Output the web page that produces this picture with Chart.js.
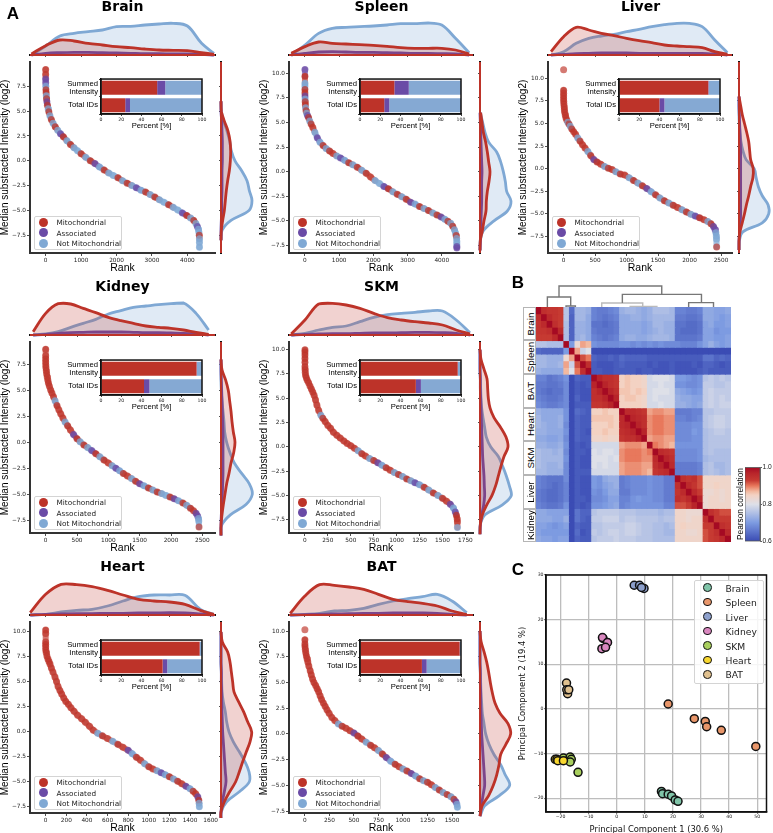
<!DOCTYPE html>
<html>
<head>
<meta charset="utf-8">
<title>Mitochondrial proteome across tissues</title>
<script src="https://cdn.jsdelivr.net/npm/chart.js"></script>
<style>
  html, body { margin: 0; padding: 0; background: #fff; }
  body { position: relative; width: 773px; height: 833px; overflow: hidden; }
  canvas { position: absolute; }
  .txt { position: absolute; white-space: nowrap; color: #000; }
  .box { position: absolute; box-sizing: border-box; background: rgba(255,255,255,.85); border: 1px solid #d4d4d4; border-radius: 2px; }
  .dot { position: absolute; border-radius: 50%; box-sizing: border-box; }
</style>
</head>
<body>
<script>
// rank curves, [rank, log2 intensity]
const brainCurve = [[0,9.2],[0,8.7],[0,8.25],[2,7.85],[5,7.5],[8,7.15],[12,6.85],[18,6.55],[25,6.25],[35,5.95],[50,5.6],[70,5.25],[90,4.95],[120,4.55],[160,4.15],[210,3.78],[270,3.42],[340,3.08],[420,2.72],[500,2.42],[600,2.02],[700,1.65],[800,1.32],[900,1.02],[1000,0.72],[1130,0.35],[1260,0.02],[1390,-0.28],[1520,-0.62],[1650,-0.92],[1780,-1.22],[1910,-1.48],[2040,-1.7],[2170,-2.0],[2300,-2.25],[2430,-2.48],[2560,-2.72],[2690,-2.95],[2820,-3.15],[2950,-3.4],[3080,-3.65],[3210,-3.92],[3340,-4.18],[3470,-4.42],[3600,-4.68],[3730,-4.95],[3860,-5.25],[3980,-5.5],[4090,-5.75],[4180,-6.0],[4240,-6.3],[4280,-6.6],[4310,-6.9],[4325,-7.2],[4335,-7.5],[4340,-7.85],[4340,-8.2],[4340,-8.7]]
const brainClasses = 'MMAANMMNMAMNMNMNMNAMNMNNMNMANMNNMNMNANMNMNNMNNAMNMNANNMNNN'
const spleenCurve = [[0,10.4],[0,9.7],[0,9.0],[0,8.7],[0,8.35],[0,8.0],[2,7.7],[4,7.4],[7,7.1],[12,6.8],[20,6.5],[32,6.2],[50,5.95],[75,5.7],[105,5.5],[140,5.15],[180,4.85],[230,4.5],[290,4.0],[360,3.45],[440,3.0],[530,2.65],[620,2.35],[720,2.1],[820,1.85],[930,1.6],[1040,1.4],[1160,1.15],[1280,0.9],[1400,0.7],[1530,0.45],[1660,0.15],[1790,-0.15],[1920,-0.55],[2050,-0.9],[2180,-1.2],[2310,-1.5],[2440,-1.75],[2570,-2.05],[2700,-2.3],[2830,-2.55],[2960,-2.8],[3090,-3.1],[3220,-3.3],[3350,-3.55],[3480,-3.75],[3610,-3.95],[3740,-4.2],[3860,-4.4],[3980,-4.6],[4090,-4.85],[4180,-5.05],[4260,-5.25],[4320,-5.55],[4370,-5.9],[4400,-6.2],[4420,-6.5],[4435,-6.8],[4440,-7.1],[4440,-7.35],[4440,-7.6],[4440,-7.75]]
const spleenClasses = 'AMNNMMANMMNMNAMNMMNANMNMMNANMNMNMMNNAMNMNMANMNMNMANMNMNNMNNNAA'
const liverCurve = [[0,10.96],[0,8.67],[0,8.35],[0,8.05],[0,7.75],[2,7.45],[5,7.15],[8,6.85],[12,6.55],[18,6.25],[26,5.95],[36,5.65],[50,5.4],[66,5.15],[85,4.95],[105,4.7],[130,4.4],[160,4.1],[190,3.8],[225,3.4],[260,3.05],[300,2.65],[340,2.3],[385,1.9],[430,1.45],[480,1.0],[530,0.75],[590,0.5],[650,0.25],[710,0.05],[770,-0.1],[830,-0.35],[900,-0.6],[970,-0.7],[1040,-1.0],[1110,-1.3],[1180,-1.6],[1250,-1.9],[1320,-2.2],[1390,-2.55],[1460,-2.9],[1530,-3.25],[1600,-3.55],[1670,-3.8],[1740,-4.05],[1810,-4.3],[1880,-4.55],[1950,-4.8],[2020,-5.05],[2090,-5.25],[2160,-5.45],[2230,-5.65],[2290,-5.85],[2340,-6.1],[2380,-6.4],[2405,-6.75],[2418,-7.1],[2425,-7.45],[2428,-7.8],[2430,-8.67]]
const liverClasses = 'MMMMMMMMMMMMMNMNMMMNMMMNMAMMNMMNMMNMNMANMNMNMMNMNAMMNMAANNNM'
const kidneyCurve = [[0,8.97],[0,8.35],[0,8.05],[0,7.75],[2,7.45],[5,7.2],[10,6.9],[16,6.6],[25,6.3],[35,6.0],[45,5.7],[60,5.4],[80,5.05],[100,4.75],[125,4.4],[150,4.0],[180,3.55],[210,3.15],[240,2.75],[275,2.35],[310,1.95],[350,1.6],[395,1.2],[445,0.75],[500,0.35],[550,0.05],[610,-0.25],[670,-0.5],[735,-0.8],[800,-1.1],[865,-1.4],[930,-1.7],[1000,-2.0],[1060,-2.25],[1120,-2.5],[1180,-2.75],[1240,-3.0],[1305,-3.25],[1370,-3.5],[1435,-3.75],[1500,-4.0],[1570,-4.2],[1640,-4.4],[1710,-4.6],[1780,-4.8],[1850,-4.95],[1920,-5.12],[1984,-5.27],[2050,-5.45],[2120,-5.65],[2190,-5.85],[2250,-6.08],[2310,-6.35],[2360,-6.6],[2400,-6.85],[2425,-7.1],[2438,-7.35],[2443,-7.6],[2447,-8.17]]
const kidneyClasses = 'MMMMMMMMMMMMMMMNMMMMNMMAMNMNAMNMMNANMMNMANMNMNNMANMNMMAANNM'
const skmCurve = [[0,10.0],[0,9.75],[0,9.45],[0,9.1],[0,8.7],[0,8.25],[1,7.95],[3,7.65],[8,7.35],[15,7.1],[25,6.85],[40,6.6],[55,6.25],[70,5.95],[85,5.65],[100,5.3],[115,4.85],[130,4.3],[150,3.75],[174,3.24],[195,2.95],[220,2.6],[250,2.2],[280,1.9],[310,1.5],[348,1.18],[385,0.9],[425,0.6],[460,0.35],[500,0.12],[540,-0.15],[580,-0.4],[620,-0.7],[660,-0.95],[705,-1.2],[750,-1.4],[795,-1.65],[840,-1.9],[885,-2.15],[930,-2.4],[975,-2.65],[1020,-2.85],[1065,-3.05],[1110,-3.3],[1155,-3.5],[1200,-3.7],[1250,-3.9],[1300,-4.15],[1350,-4.45],[1400,-4.75],[1450,-5.0],[1500,-5.3],[1545,-5.6],[1585,-5.9],[1620,-6.3],[1640,-6.7],[1652,-7.05],[1660,-7.4],[1663,-7.7],[1663,-8.3]]
const skmClasses = 'MMMMMMMMMMMMMMMMMMMNMMMMMMMMMMMNMMNMANMMNMNMNANMNMNMMANAMMMN'
const heartCurve = [[0,10.2],[0,9.85],[0,9.0],[0,8.75],[0,8.5],[1,8.2],[5,7.95],[12,7.6],[22,7.3],[32,7.05],[42,6.8],[55,6.4],[70,6.0],[90,5.5],[105,5.05],[120,4.55],[138,4.15],[155,3.8],[175,3.4],[195,3.05],[220,2.75],[245,2.4],[275,2.05],[310,1.65],[349,1.3],[385,0.95],[425,0.55],[462,0.15],[505,-0.15],[550,-0.4],[600,-0.68],[650,-0.95],[700,-1.25],[750,-1.55],[800,-1.85],[840,-2.2],[880,-2.55],[920,-2.85],[960,-3.2],[1000,-3.5],[1040,-3.72],[1080,-3.9],[1120,-4.1],[1160,-4.3],[1200,-4.5],[1240,-4.72],[1280,-4.95],[1320,-5.2],[1360,-5.45],[1400,-5.7],[1430,-5.95],[1455,-6.2],[1475,-6.5],[1485,-6.85],[1488,-7.15],[1490,-7.5]]
const heartClasses = 'MMMMMMMMMMMMMMMMMMMMMMMMMMMMNMMNMMANMMNMMNANMNMMANMMAMNN'
const batCurve = [[0,10.13],[0,9.15],[0,8.75],[1,8.5],[4,8.2],[9,7.9],[15,7.6],[22,7.3],[30,7.0],[40,6.6],[54,6.15],[65,5.75],[78,5.35],[92,5.0],[110,4.7],[125,4.4],[140,4.1],[155,3.7],[170,3.35],[188,3.0],[206,2.7],[225,2.35],[247,2.0],[275,1.6],[305,1.3],[342,0.97],[380,0.75],[420,0.55],[460,0.3],[500,0.1],[540,-0.2],[580,-0.5],[625,-0.8],[670,-1.1],[710,-1.35],[750,-1.62],[790,-1.95],[830,-2.3],[875,-2.65],[920,-2.95],[960,-3.2],[1000,-3.4],[1040,-3.6],[1085,-3.85],[1130,-4.1],[1170,-4.35],[1210,-4.55],[1250,-4.7],[1290,-4.95],[1330,-5.2],[1370,-5.45],[1410,-5.7],[1450,-5.9],[1490,-6.1],[1520,-6.35],[1540,-6.6],[1550,-6.85],[1555,-7.14]]
const batClasses = 'MMMMMMMMMMMMMMMMMMMMMMMMMNMMMAMMNMMNMANMMNMANMNMMNMNMNMANN'

// top density curves
const brainTopRank = [-400,0,400,800,1200,1600,2000,2400,2800,3200,3600,4000,4400,4750]
const brainTopNot = [0,.27,.57,.65,.70,.75,.85,.86,.90,.93,.95,.87,.35,.05]
const brainTopMito = [.03,.28,.45,.42,.35,.30,.25,.22,.18,.15,.14,.13,.07,.02]
const brainTopAssoc = [0,.05,.07,.08,.08,.07,.06,.05,.04,.04,.03,.03,.02,0]
const spleenTopRank = [-400,0,400,800,1200,1600,2000,2400,2800,3200,3600,4000,4400,4800]
const spleenTopNot = [0,.30,.65,.80,.83,.85,.87,.90,.94,.94,.96,.90,.50,.07]
const spleenTopMito = [.05,.25,.39,.35,.33,.31,.29,.26,.22,.20,.20,.20,.15,.03]
const spleenTopAssoc = [0,.05,.09,.10,.09,.08,.08,.07,.06,.05,.05,.04,.03,0]
const liverTopRank = [-200,0,200,400,600,800,1000,1200,1400,1600,1800,2000,2200,2400,2600]
const liverTopNot = [0,.10,.35,.50,.57,.62,.70,.77,.85,.91,.95,.95,.85,.45,.07]
const liverTopMito = [.10,.55,.83,.75,.65,.58,.50,.43,.37,.30,.27,.25,.22,.10,.02]
const liverTopAssoc = [0,.02,.04,.05,.06,.06,.06,.05,.05,.05,.05,.05,.05,.03,0]
const kidneyTopRank = [-200,0,200,400,600,800,1000,1200,1400,1600,1800,2000,2200,2400,2600]
const kidneyTopNot = [0,.03,.10,.23,.35,.47,.63,.73,.83,.87,.91,.94,.96,.65,.15]
const kidneyTopMito = [.10,.65,.94,.93,.80,.67,.53,.43,.35,.27,.23,.20,.15,.08,.02]
const kidneyTopAssoc = [0,.02,.05,.07,.08,.09,.09,.09,.08,.07,.07,.06,.05,.03,0]
const skmTopRank = [-150,0,150,300,450,600,750,900,1050,1200,1350,1500,1650,1800]
const skmTopNot = [0,.05,.15,.23,.27,.40,.53,.61,.65,.68,.72,.72,.45,.07]
const skmTopMito = [.03,.45,.93,.95,.90,.80,.65,.52,.45,.40,.36,.30,.15,.03]
const skmTopAssoc = [0,.02,.03,.04,.04,.05,.06,.06,.07,.08,.08,.07,.05,0]
const heartTopRank = [-150,0,150,300,450,600,750,900,1050,1200,1350,1500,1630]
const heartTopNot = [0,.02,.09,.14,.17,.27,.42,.55,.60,.60,.59,.17,.02]
const heartTopMito = [.07,.62,.92,.91,.85,.74,.60,.47,.42,.39,.32,.14,.02]
const heartTopAssoc = [0,.02,.03,.04,.04,.05,.05,.06,.06,.07,.06,.03,0]
const batTopRank = [-150,0,150,300,450,600,750,900,1050,1200,1350,1500,1650]
const batTopNot = [0,.02,.05,.12,.14,.20,.32,.42,.49,.55,.62,.42,.07]
const batTopMito = [.05,.57,.91,.89,.84,.77,.62,.47,.40,.35,.27,.12,.01]
const batTopAssoc = [0,.01,.02,.03,.04,.05,.05,.06,.06,.06,.05,.02,0]

// side density curves
const brainSideLevel = [6,5,4,3,2,1,0,-1,-2,-3,-4,-5,-6,-7,-8]
const brainSideNot = [0,.01,.08,.18,.26,.31,.42,.62,.78,.85,.93,.84,.30,.03,0]
const brainSideMito = [0,.01,.10,.21,.27,.29,.28,.25,.20,.16,.13,.10,.05,.01,0]
const brainSideAssoc = [0,0,.02,.03,.04,.04,.04,.03,.03,.03,.02,.02,.01,0,0]
const spleenSideLevel = [6,5,4,3,2,1,0,-1,-2,-3,-4,-5,-6,-7,-8]
const spleenSideNot = [.01,.08,.15,.26,.50,.62,.70,.76,.80,.93,.82,.42,.10,.01,0]
const spleenSideMito = [.02,.06,.10,.17,.22,.26,.30,.27,.22,.19,.18,.12,.07,.01,0]
const spleenSideAssoc = [0,.01,.02,.03,.04,.05,.06,.05,.05,.05,.04,.03,.02,.01,0]
const liverSideLevel = [8,7,6,5,4,3,2,1,0,-1,-2,-3,-4,-5,-6,-7,-8,-9]
const liverSideNot = [0,0,0,.01,.03,.06,.12,.22,.47,.53,.60,.72,.90,.92,.72,.12,.01,0]
const liverSideMito = [0,.05,.10,.17,.24,.30,.33,.36,.44,.43,.36,.30,.23,.17,.10,.03,0,0]
const liverSideAssoc = [0,0,.01,.02,.03,.04,.05,.05,.05,.05,.05,.05,.05,.05,.04,.02,0,0]
const kidneySideLevel = [8,7,6,5,4,3,2,1,0,-1,-2,-3,-4,-5,-6,-7,-8,-9]
const kidneySideNot = [0,0,0,.01,.03,.06,.09,.11,.17,.27,.40,.62,.85,.94,.75,.28,.02,0]
const kidneySideMito = [0,.03,.14,.22,.26,.30,.33,.37,.42,.38,.30,.24,.17,.12,.07,.03,0,0]
const kidneySideAssoc = [0,0,.01,.02,.03,.04,.05,.06,.06,.06,.06,.06,.05,.04,.03,.01,0,0]
const skmSideLevel = [10,9,8,7,6,5,4,3,2,1,0,-1,-2,-3,-4,-5,-6,-7,-8,-9]
const skmSideNot = [0,0,0,.01,.02,.03,.05,.09,.14,.19,.32,.55,.68,.79,.88,.94,.66,.15,.01,0]
const skmSideMito = [0,.03,.12,.21,.23,.25,.30,.42,.62,.78,.84,.72,.63,.55,.47,.36,.20,.07,.01,0]
const skmSideAssoc = [0,0,0,.01,.01,.02,.03,.04,.05,.06,.07,.08,.10,.12,.13,.14,.11,.05,.01,0]
const heartSideLevel = [10,9,8,7,6,5,4,3,2,1,0,-1,-2,-3,-4,-5,-6,-7,-8,-9]
const heartSideNot = [0,0,0,0,.01,.02,.03,.07,.13,.17,.24,.37,.55,.72,.84,.85,.55,.17,.01,0]
const heartSideMito = [0,.04,.20,.27,.31,.35,.39,.53,.68,.80,.92,.87,.76,.65,.55,.44,.26,.10,0,0]
const heartSideAssoc = [0,0,0,0,.01,.01,.02,.02,.03,.04,.05,.07,.09,.11,.13,.15,.10,.04,0,0]
const batSideLevel = [10,9,8,7,6,5,4,3,2,1,0,-1,-2,-3,-4,-5,-6,-7,-8]
const batSideNot = [0,0,0,0,.01,.02,.03,.05,.07,.12,.17,.27,.42,.62,.76,.89,.58,.14,0]
const batSideMito = [0,.03,.12,.20,.26,.31,.37,.45,.60,.84,.92,.78,.62,.57,.50,.40,.26,.06,0]
const batSideAssoc = [0,0,0,0,.01,.01,.02,.02,.03,.04,.05,.07,.09,.11,.13,.14,.09,.04,0]

// inset percent bars: [mito, associated, not mito]
const insetLabels = [['Summed', 'Intensity'], 'Total IDs']
const brainSummed = [55.6,8,36.4], brainTotal = [24,4.7,71.3]
const spleenSummed = [34,14.3,51.7], spleenTotal = [24,5,71]
const liverSummed = [88.4,0.4,11.2], liverTotal = [40,5,55]
const kidneySummed = [94.6,0.3,5.1], kidneyTotal = [42.6,5.4,52]
const skmSummed = [96.7,0.3,3], skmTotal = [55.3,5,39.7]
const heartSummed = [97.6,0.4,2], heartTotal = [61,4.6,34.4]
const batSummed = [98.6,0.4,1], batTotal = [61.3,4.7,34]

// axis ranges and ticks
const rank4k = [0,1000,2000,3000,4000]
const rank2500 = [0,500,1000,1500,2000,2500]
const skmRankTicks = [0,250,500,750,1000,1250,1500,1750]
const heartRankTicks = [0,200,400,600,800,1000,1200,1400,1600]
const batRankTicks = [0,250,500,750,1000,1250,1500]
const value75 = [-7.5,-5,-2.5,0,2.5,5,7.5]
const value10 = [-7.5,-5,-2.5,0,2.5,5,7.5,10]

// B: pearson correlation x100
const heatTissues = ['Brain','Spleen','BAT','Heart','SKM','Liver','Kidney']
const heatMatrix = [
[100,95,94,94,93,76,64,74,74,73,67,66,66,67,68,73,74,74,73,72,73,75,75,75,74,67,67,66,66,67,72,72,71,71,72],
[95,100,96,94,93,76,63,74,74,72,67,66,65,66,67,72,72,73,73,72,73,74,74,74,74,66,66,65,65,66,72,72,71,70,71],
[94,96,100,95,93,75,63,73,73,72,65,65,64,65,66,72,72,72,72,71,72,74,74,73,73,65,65,64,64,65,71,72,70,70,71],
[94,94,95,100,96,75,63,73,73,72,66,65,65,65,66,72,72,72,72,71,72,73,74,73,73,65,64,64,64,65,71,71,69,70,70],
[93,93,93,96,100,75,63,73,74,72,67,66,65,66,67,72,73,73,72,72,73,74,74,74,73,65,65,65,65,66,71,71,70,70,71],
[76,76,75,75,75,100,70,83,88,87,69,68,68,68,68,69,69,68,69,68,69,68,69,68,68,68,67,67,67,69,71,73,71,70,71],
[64,63,63,63,63,70,100,88,78,80,60,60,60,60,60,60,60,60,60,60,60,60,60,60,60,60,60,60,60,60,60,60,60,60,60],
[74,74,73,73,73,83,88,100,92,90,63,62,62,63,62,64,63,63,63,63,62,62,62,62,62,62,62,62,62,62,65,65,63,64,63],
[74,74,73,73,74,88,78,92,100,95,62,61,61,61,62,63,62,62,62,62,61,62,61,61,62,61,61,61,62,61,63,63,62,61,62],
[73,72,72,72,72,87,80,90,95,100,62,62,61,61,62,62,62,62,61,62,62,61,61,61,62,61,61,61,61,62,63,62,62,62,62],
[67,67,65,66,67,69,60,63,62,62,100,97,95,95,94,85,86,85,85,84,79,80,80,80,79,70,70,69,68,69,76,77,76,77,76],
[66,66,65,65,66,68,60,62,61,62,97,100,97,95,94,85,86,85,85,84,79,79,80,79,79,69,69,68,68,69,77,77,76,76,77],
[66,65,64,65,65,68,60,62,61,61,95,97,100,97,95,86,86,85,86,85,79,80,80,80,79,72,71,70,69,70,77,78,77,77,77],
[67,66,65,65,66,68,60,63,61,61,95,95,97,100,97,85,86,86,85,84,79,80,79,79,79,73,72,72,71,71,77,78,77,78,77],
[68,67,66,66,67,68,60,62,62,62,94,94,95,97,100,85,85,85,85,84,79,79,80,79,79,73,73,72,71,72,77,78,77,78,78],
[73,72,72,72,72,69,60,64,63,62,85,85,86,85,85,100,96,96,95,94,88,89,89,88,88,66,66,66,67,67,76,76,77,77,77],
[74,72,72,72,73,69,60,63,62,62,86,86,86,86,85,96,100,97,96,95,89,90,90,89,89,67,67,66,67,68,76,77,78,78,77],
[74,73,72,72,73,68,60,63,62,62,85,85,85,86,85,96,97,100,97,95,89,90,90,89,89,68,68,68,69,69,76,77,78,78,77],
[73,73,72,72,72,69,60,63,62,61,85,85,86,85,85,95,96,97,100,97,89,90,90,89,89,68,68,68,70,69,75,76,77,77,76],
[72,72,71,71,72,68,60,63,62,62,84,84,85,84,84,94,95,95,97,100,88,89,89,88,88,68,68,68,69,69,75,76,76,76,76],
[73,73,72,72,73,69,60,62,61,62,79,79,79,79,79,88,89,89,89,88,100,90,89,88,87,69,69,69,69,69,75,76,76,76,76],
[75,74,74,73,74,68,60,62,62,61,80,79,80,80,79,89,90,90,90,89,90,100,96,95,94,68,68,68,68,69,75,76,75,75,75],
[75,74,74,74,74,69,60,62,61,61,80,80,80,79,80,89,90,90,90,89,89,96,100,97,95,68,68,68,68,69,74,75,75,75,75],
[75,74,73,73,74,68,60,62,61,61,80,79,80,79,79,88,89,89,89,88,88,95,97,100,96,66,66,66,66,67,75,76,74,74,75],
[74,74,73,73,73,68,60,62,62,62,79,79,79,79,79,88,89,89,89,88,87,94,95,96,100,66,66,66,66,67,75,76,75,74,75],
[67,66,65,65,65,68,60,62,61,61,70,69,72,73,73,66,67,68,68,68,69,68,68,66,66,100,95,94,95,92,84,84,84,84,84],
[67,66,65,64,65,67,60,62,61,61,70,69,71,72,73,66,67,68,68,68,69,68,68,66,66,95,100,96,94,92,84,84,85,84,84],
[66,65,64,64,65,67,60,62,61,61,69,68,70,72,72,66,66,68,68,68,69,68,68,66,66,94,96,100,96,93,83,83,84,83,84],
[66,65,64,64,65,67,60,62,62,61,68,68,69,71,71,67,67,69,70,69,69,68,68,66,66,95,94,96,100,97,83,84,84,83,84],
[67,66,65,65,66,69,60,62,61,62,69,69,70,71,72,67,68,69,69,69,69,69,69,67,67,92,92,93,97,100,83,84,84,84,84],
[72,72,71,71,71,71,60,65,63,63,76,77,77,77,77,76,76,76,75,75,75,75,74,75,75,84,84,83,83,83,100,95,93,92,92],
[72,72,72,71,71,73,60,65,63,62,77,77,78,78,78,76,77,77,76,76,76,76,75,76,76,84,84,83,84,84,95,100,93,93,93],
[71,71,70,69,70,71,60,63,62,62,76,76,77,77,77,77,78,78,77,76,76,75,75,74,75,84,85,84,84,84,93,93,100,95,94],
[71,70,70,70,70,70,60,64,61,62,77,76,77,78,78,77,78,78,77,76,76,75,75,74,74,84,84,83,83,84,92,93,95,100,96],
[72,71,71,70,71,71,60,63,62,62,76,77,77,77,78,77,77,77,76,76,76,75,75,75,75,84,84,84,84,84,92,93,94,96,100]
]
const heatTicks = [0.6,0.8,1.0]
const dendroX = [[4.13,4.13,22.57,22.57],[2.04,2.04,6.23,6.23],[5.39,5.39,7.07,7.07],[15.5,15.5,29.7,29.7],[11.8,11.8,19.16,19.16],[16.9,16.9,21.7,21.7],[27.4,27.4,31.86,31.86]]
const dendroY = [[30,63,63,38],[0,30,30,3],[0,3,3,0],[12,38,38,13],[0,12,12,2],[0,2,2,0],[0,13,13,0]]

// C: PCA
const pcaNames = ['Brain','Spleen','Liver','Kidney','SKM','Heart','BAT']
const pcaBrain = [[15.9,-18.5],[16.3,-19],[18.3,-19.1],[19.5,-19.5],[20.8,-20.4],[21.8,-20.7]]
const pcaSpleen = [[18.3,1.1],[27.6,-2.2],[31.5,-2.8],[32,-4],[37.2,-4.8],[49.5,-8.4]]
const pcaLiver = [[6.2,27.7],[8.1,27.7],[9.7,27],[8.8,27.2]]
const pcaKidney = [[-4.9,15.8],[-5.1,16],[-3.3,14.9],[-5.3,13.5],[-4,13.8]]
const pcaSkm = [[-19,-11],[-16.6,-10.8],[-16.2,-11.3],[-16.6,-11.9],[-13.8,-14.2]]
const pcaHeart = [[-21.9,-11.3],[-21.3,-11.3],[-21,-11.6],[-19,-11.6]]
const pcaBat = [[-17.9,5.8],[-17.5,3.4],[-17.8,4.3],[-17.1,4.3]]
const pcaColors = ['#7fc4a8','#e8966a','#8c9fcb','#d987bf','#a8cf5d','#f8d72f','#e0c08e']
const pcaXTicks = [-20,-10,0,10,20,30,40,50]
const pcaYTicks = [-20,-10,0,10,20,30]

const RED = '#bd3329', PURPLE = '#6a4ba6', BLUE = '#7fa8d4'
const INK = '#222'
const classColor = { M: 'rgba(189,51,41,.66)', A: 'rgba(106,75,166,.66)', N: 'rgba(127,168,212,.7)' }
const SANS = '"Liberation Sans", Arial, sans-serif'
const DEJAVU = '"DejaVu Sans", sans-serif'

Chart.defaults.animation = false
Chart.defaults.responsive = false
Chart.defaults.devicePixelRatio = 1
Chart.defaults.plugins.legend.display = false
Chart.defaults.plugins.tooltip.enabled = false
Chart.defaults.font.family = DEJAVU

function addCanvas(x, y, w, h) {
    const c = document.createElement('canvas')
    c.width = w
    c.height = h
    c.style.left = x + 'px'
    c.style.top = y + 'px'
    c.style.width = w + 'px'
    c.style.height = h + 'px'
    document.body.appendChild(c)
    return c
}

function addText(text, x, y, font, rotate) {
    // x,y is the text centre
    const d = document.createElement('div')
    d.className = 'txt'
    d.textContent = text
    d.style.font = font
    d.style.left = x + 'px'
    d.style.top = y + 'px'
    d.style.transform = 'translate(-50%,-50%)' + (rotate ? ' rotate(' + rotate + 'deg)' : '')
    document.body.appendChild(d)
    return d
}

function addLeftText(text, x, y, font) {
    const d = addText(text, x, y, font)
    d.style.transform = 'translateY(-50%)'
    return d
}

function addDot(x, y, size, color, border) {
    const d = document.createElement('div')
    d.className = 'dot'
    d.style.left = (x - size / 2) + 'px'
    d.style.top = (y - size / 2) + 'px'
    d.style.width = size + 'px'
    d.style.height = size + 'px'
    d.style.background = color
    if (border) d.style.border = border
    document.body.appendChild(d)
}

function addBox(x, y, w, h) {
    const d = document.createElement('div')
    d.className = 'box'
    d.style.left = x + 'px'
    d.style.top = y + 'px'
    d.style.width = w + 'px'
    d.style.height = h + 'px'
    document.body.appendChild(d)
    return d
}

const frame = {
    id: 'frame',
    afterDraw(chart, args, opts) {
        const a = chart.chartArea
        const c = chart.ctx
        c.save()
        c.strokeStyle = opts.color || '#111'
        c.lineWidth = opts.width || 1.5
        c.strokeRect(a.left, a.top, a.width, a.height)
        c.restore()
    }
}

function tickList(list) {
    return s => { s.ticks = list.map(v => ({ value: v })) }
}

function minus(text) {
    return String(text).replace('-', '\u2212')
}

function densitySet(label, color, fillColor, data) {
    return {
        label: label,
        data: data,
        borderColor: color,
        backgroundColor: fillColor,
        borderWidth: 2.8,
        pointRadius: 0,
        tension: 0.35,
        fill: 'origin',
        clip: false
    }
}

function densitySets(mito, assoc, not, pick) {
    return [
        densitySet('Mitochondrial', RED, 'rgba(189,51,41,.22)', mito.map(pick)),
        densitySet('Associated', PURPLE, 'rgba(106,75,166,.22)', assoc.map(pick)),
        densitySet('Not Mitochondrial', BLUE, 'rgba(127,168,212,.24)', not.map(pick))
    ]
}

// the red density runs along the whole axis where it is zero
function baseline(a, b) {
    return { data: [a, b], borderColor: RED, borderWidth: 2, pointRadius: 0, fill: false, clip: false }
}

function drawPanel(p) {
    const L = 31, B = 21, T = 8, R = 12
    const w = p.x1 - p.x0, h = p.y1 - p.y0

    // main rank plot
    new Chart(addCanvas(p.x0 - L, p.y0 - T, w + L + R, h + T + B), {
        type: 'scatter',
        data: {
            datasets: [{
                label: p.name,
                data: p.curve.map(q => ({ x: q[0], y: q[1] })),
                showLine: true,
                borderWidth: 6,
                borderCapStyle: 'round',
                borderJoinStyle: 'round',
                borderColor: 'rgba(140,110,170,.5)',
                segment: {
                    // isolated top and bottom proteins are not joined to the curve
                    borderColor: ctx => Math.abs(ctx.p0.parsed.y - ctx.p1.parsed.y) > 0.9 ? 'transparent' : classColor[p.classes[ctx.p0DataIndex] || 'N']
                },
                pointRadius: 3.5,
                pointBorderWidth: 0,
                pointBackgroundColor: p.curve.map((q, i) => classColor[p.classes[i] || 'N'])
            }]
        },
        options: {
            layout: { padding: { top: T, right: R } },
            scales: {
                x: {
                    type: 'linear', min: p.rankRange[0], max: p.rankRange[1],
                    afterBuildTicks: tickList(p.rankTicks),
                    afterFit: s => { s.height = B },
                    border: { color: '#333', width: 2 },
                    grid: { drawOnChartArea: false, tickLength: 3, tickColor: INK, tickWidth: 0.8 },
                    ticks: { autoSkip: false, maxRotation: 0, padding: 1, color: INK, font: { size: 5.8 }, callback: v => minus(v) },
                    title: { display: true, text: 'Rank', color: '#000', padding: 0, font: { family: SANS, size: 10.5 } }
                },
                y: {
                    min: p.valueRange[0], max: p.valueRange[1],
                    afterBuildTicks: tickList(p.valueTicks),
                    afterFit: s => { s.width = L },
                    border: { color: '#333', width: 2 },
                    grid: { drawOnChartArea: false, tickLength: 3, tickColor: INK, tickWidth: 0.8 },
                    ticks: { autoSkip: false, padding: 1, color: INK, font: { size: 5.8 }, callback: v => minus(Number(v).toFixed(1)) },
                    title: { display: true, text: 'Median substracted Intensity (log2)', color: '#000', padding: 0, font: { family: SANS, size: 10 } }
                }
            }
        }
    })

    // top density
    const topSets = densitySets(p.topMito, p.topAssoc, p.topNot, (v, i) => ({ x: p.topRank[i], y: v }))
    topSets.unshift(baseline({ x: p.rankRange[0], y: 0 }, { x: p.rankRange[1], y: 0 }))
    new Chart(addCanvas(p.x0 - 3, p.y0 - 42, w + 6, 40), {
        type: 'line',
        data: { datasets: topSets },
        options: {
            layout: { padding: { left: 3, right: 3, top: 3 } },
            scales: {
                x: {
                    type: 'linear', min: p.rankRange[0], max: p.rankRange[1],
                    afterBuildTicks: tickList(p.rankTicks),
                    afterFit: s => { s.height = 5 },
                    border: { color: '#111', width: 2 },
                    grid: { drawOnChartArea: false, tickLength: 2, tickColor: INK, tickWidth: 0.8 },
                    ticks: { autoSkip: false, maxRotation: 0, padding: 0, font: { size: 1 }, callback: () => '' }
                },
                y: { display: false, min: 0, max: 0.96 }
            }
        }
    })

    // side density, drawn along the value axis
    const sideSets = densitySets(p.sideMito, p.sideAssoc, p.sideNot, (v, i) => ({ x: v, y: p.sideLevel[i] }))
    sideSets.unshift(baseline({ x: 0, y: p.valueRange[1] }, { x: 0, y: p.valueRange[0] }))
    new Chart(addCanvas(p.sx0 - 5, p.y0 - T, p.sx1 - p.sx0 + 8, h + T + 5), {
        type: 'line',
        data: { datasets: sideSets },
        options: {
            indexAxis: 'y',
            layout: { padding: { top: T, right: 3, bottom: 5 } },
            scales: {
                x: { display: false, type: 'linear', min: 0, max: 0.96 },
                y: {
                    type: 'linear', min: p.valueRange[0], max: p.valueRange[1],
                    afterBuildTicks: tickList(p.valueTicks),
                    afterFit: s => { s.width = 5 },
                    border: { color: '#111', width: 2 },
                    grid: { drawOnChartArea: false, tickLength: 2, tickColor: INK, tickWidth: 0.8 },
                    ticks: { autoSkip: false, padding: 0, font: { size: 1 }, callback: () => '' }
                }
            }
        }
    })

    // inset stacked percent bars
    const il = 42, ib = 17
    const ix = p.x0 + 71, iy = p.y0 + p.insetTop
    new Chart(addCanvas(ix - il, iy - 3, 101 + il + 6, 37 + 3 + ib), {
        type: 'bar',
        data: {
            labels: insetLabels,
            datasets: ['Mitochondrial', 'Associated', 'Not Mitochondrial'].map((name, k) => ({
                label: name,
                data: [p.summed[k], p.total[k]],
                backgroundColor: [RED, PURPLE, '#85a9d3'][k],
                barPercentage: 0.8,
                categoryPercentage: 1
            }))
        },
        options: {
            indexAxis: 'y',
            layout: { padding: { top: 3, right: 6 } },
            scales: {
                x: {
                    stacked: true, min: 0, max: 100,
                    afterBuildTicks: tickList([0,20,40,60,80,100]),
                    afterFit: s => { s.height = ib },
                    border: { color: '#111', width: 1.5 },
                    grid: { drawOnChartArea: false, tickLength: 2, tickColor: '#111', tickWidth: 0.8 },
                    ticks: { autoSkip: false, maxRotation: 0, padding: 1, color: INK, font: { size: 4.6 } },
                    title: { display: true, text: 'Percent [%]', color: '#000', padding: 0, font: { family: SANS, size: 7.7 } }
                },
                y: {
                    stacked: true,
                    afterFit: s => { s.width = il },
                    border: { color: '#111', width: 1.5 },
                    grid: { drawOnChartArea: false, tickLength: 2, tickColor: '#111', tickWidth: 0.8 },
                    ticks: { autoSkip: false, padding: 1, color: '#000', font: { family: SANS, size: 7.7, lineHeight: 1.05 } }
                }
            },
            plugins: { frame: { width: 1.5, color: '#111' } }
        },
        plugins: [frame]
    })

    // legend
    const lx = p.x0 + 3.5, ly = p.y1 - 37
    addBox(lx, ly, 88.5, 34)
    const names = ['Mitochondrial', 'Associated', 'Not Mitochondrial']
    const dots = [RED, PURPLE, BLUE]
    names.forEach((n, i) => {
        addDot(p.x0 + 13.7, ly + 6.3 + i * 10.5, 9, dots[i])
        addLeftText(n, p.x0 + 26.5, ly + 6.3 + i * 10.5, '7.3px ' + DEJAVU).style.color = '#222'
    })

    addText(p.name, p.titleX, p.titleY, 'bold 14px ' + DEJAVU)
}

function heatColor(v) {
    // coolwarm-like colour table, between 0.6 and 1.0
    const table = [[0.6,59,76,180],[0.7,125,155,225],[0.8,222,224,232],[0.85,243,210,195],[0.87,242,185,160],[0.9,232,120,92],[0.93,198,58,50],[0.97,184,36,42],[1.0,165,10,35]]
    let i = 0
    while (i < table.length - 2 && v > table[i + 1][0]) i++
    const f = Math.max(0, Math.min(1, (v - table[i][0]) / (table[i + 1][0] - table[i][0])))
    const c = [1, 2, 3].map(k => Math.round(table[i][k] + (table[i + 1][k] - table[i][k]) * f))
    return 'rgb(' + c.join(',') + ')'
}

function drawHeatmap() {
    const x0 = 536, y0 = 307, w = 195, h = 235
    new Chart(addCanvas(x0, y0, w, h), {
        type: 'bar',
        data: {
            labels: heatMatrix.map((r, i) => i),
            datasets: heatMatrix.map((row, r) => ({
                label: 'row ' + r,
                data: row.map(() => 1),
                backgroundColor: row.map(v => heatColor(v / 100)),
                borderWidth: 0,
                inflateAmount: 0.5,
                barPercentage: 1,
                categoryPercentage: 1
            }))
        },
        options: {
            scales: {
                x: { display: false, stacked: true },
                y: { display: false, stacked: true, reverse: true, min: 0, max: 35 }
            }
        }
    })

    // dendrogram
    new Chart(addCanvas(x0, 283, w, 24), {
        type: 'scatter',
        data: {
            datasets: dendroX.map((xs, i) => ({
                data: xs.map((v, k) => ({ x: v, y: dendroY[i][k] })),
                showLine: true,
                borderColor: i >= 4 && i <= 5 ? '#bbb' : '#777',
                borderWidth: 1.4,
                pointRadius: 0,
                clip: false
            }))
        },
        options: {
            scales: {
                x: { display: false, type: 'linear', min: 0, max: 35 },
                y: { display: false, min: 0, max: 72 }
            }
        }
    })

    // tissue strip on the left
    const stripTop = [307, 340, 374, 407.5, 441, 475, 508.5, 542]
    heatTissues.forEach((t, i) => {
        const b = addBox(523, stripTop[i], 13, stripTop[i + 1] - stripTop[i])
        b.style.background = '#fff'
        b.style.borderColor = '#b5b5b5'
        b.style.borderRadius = '0'
        addText(t, 529.5, (stripTop[i] + stripTop[i + 1]) / 2, '9.8px ' + SANS, -90)
    })

    // colour bar
    const colorStops = [0.6, 0.7, 0.8, 0.85, 0.87, 0.9, 0.93, 0.97, 1.0]
    new Chart(addCanvas(745, 463, 30, 83), {
        type: 'bar',
        data: {
            labels: ['r'],
            datasets: [{
                data: [[0.6, 1.0]],
                barPercentage: 1,
                categoryPercentage: 1,
                backgroundColor: ctx => {
                    const a = ctx.chart.chartArea
                    if (!a) return '#888'
                    const g = ctx.chart.ctx.createLinearGradient(0, a.bottom, 0, a.top)
                    colorStops.forEach(v => g.addColorStop((v - 0.6) / 0.4, heatColor(v)))
                    return g
                }
            }]
        },
        options: {
            layout: { padding: { top: 3, bottom: 5 } },
            scales: {
                x: { display: false },
                y: {
                    position: 'right', min: 0.6, max: 1.0,
                    afterBuildTicks: tickList(heatTicks),
                    afterFit: s => { s.width = 15 },
                    border: { color: '#555', width: 0.8 },
                    grid: { drawOnChartArea: false, tickLength: 2, tickColor: '#333', tickWidth: 0.8 },
                    ticks: { autoSkip: false, padding: 0.5, color: '#222', font: { family: SANS, size: 6.7 }, callback: v => Number(v).toFixed(1) }
                }
            },
            plugins: { frame: { width: 0.8, color: '#555' } }
        },
        plugins: [frame]
    })
    addText('Pearson correlation', 739.5, 503.5, '8.3px ' + SANS, -90)
}

function drawPca() {
    const x0 = 546, y0 = 575, w = 222, h = 237, L = 36, B = 23
    const sets = [pcaBrain, pcaSpleen, pcaLiver, pcaKidney, pcaSkm, pcaHeart, pcaBat]
    new Chart(addCanvas(x0 - L, y0 - 6, w + L + 4, h + 6 + B), {
        type: 'scatter',
        data: {
            datasets: sets.map((pts, i) => ({
                label: pcaNames[i],
                data: pts.map(q => ({ x: q[0], y: q[1] })),
                order: 7 - i,
                pointRadius: 4,
                pointBorderWidth: 1.5,
                pointBorderColor: '#111',
                pointBackgroundColor: pcaColors[i],
                clip: false
            }))
        },
        options: {
            layout: { padding: { top: 6, right: 4 } },
            scales: {
                x: {
                    type: 'linear', min: -25.2, max: 53.3,
                    afterBuildTicks: tickList(pcaXTicks),
                    afterFit: s => { s.height = B },
                    grid: { color: '#bdbdbd', lineWidth: 1.3, tickLength: 2, tickColor: INK, tickWidth: 0.7 },
                    border: { color: '#111', width: 1.5 },
                    ticks: { autoSkip: false, maxRotation: 0, padding: 0.5, color: INK, font: { size: 4.6 }, callback: v => minus(v) },
                    title: { display: true, text: 'Principal Component 1 (30.6 %)', color: '#111', padding: 0, font: { size: 8.4 } }
                },
                y: {
                    min: -23.1, max: 30,
                    afterBuildTicks: tickList(pcaYTicks),
                    afterFit: s => { s.width = L },
                    grid: { color: '#bdbdbd', lineWidth: 1.3, tickLength: 2, tickColor: INK, tickWidth: 0.7 },
                    border: { color: '#111', width: 1.5 },
                    ticks: { autoSkip: false, padding: 0.5, color: INK, font: { size: 4.6 }, callback: v => minus(v) },
                    title: { display: true, text: 'Principal Component 2 (19.4 %)', color: '#111', padding: { top: 8, bottom: 0 }, font: { size: 8.4 } }
                }
            },
            plugins: { frame: { width: 1.5, color: '#111' } }
        },
        plugins: [frame]
    })
    addBox(694, 579.5, 69.5, 104)
    pcaNames.forEach((n, i) => {
        const y = 587.7 + i * 14.45
        addDot(707.7, y, 8.6, pcaColors[i], '1.2px solid #111')
        addLeftText(n, 725.5, y, '9.2px ' + DEJAVU).style.color = '#222'
    })
}

const columns = [
    { x0: 30, x1: 215, sx0: 221, sx1: 253, titleX: 122.5 },
    { x0: 289, x1: 473, sx0: 480, sx1: 512, titleX: 381.5 },
    { x0: 548, x1: 732, sx0: 739, sx1: 770, titleX: 640.5 }
]
const rows = [
    { y0: 62, y1: 253, titleY: 6, insetTop: 15 },
    { y0: 342, y1: 533, titleY: 285.5, insetTop: 16 },
    { y0: 622, y1: 813, titleY: 565.5, insetTop: 16 }
]

drawPanel({ ...columns[0], ...rows[0], name: 'Brain', curve: brainCurve, classes: brainClasses,
    rankRange: [-442, 4779], valueRange: [-9.28, 9.95], rankTicks: rank4k, valueTicks: value75,
    topRank: brainTopRank, topMito: brainTopMito, topAssoc: brainTopAssoc, topNot: brainTopNot,
    sideLevel: brainSideLevel, sideMito: brainSideMito, sideAssoc: brainSideAssoc, sideNot: brainSideNot,
    summed: brainSummed, total: brainTotal })
drawPanel({ ...columns[1], ...rows[0], name: 'Spleen', curve: spleenCurve, classes: spleenClasses,
    rankRange: [-466, 4913], valueRange: [-8.27, 11.15], rankTicks: rank4k, valueTicks: value10,
    topRank: spleenTopRank, topMito: spleenTopMito, topAssoc: spleenTopAssoc, topNot: spleenTopNot,
    sideLevel: spleenSideLevel, sideMito: spleenSideMito, sideAssoc: spleenSideAssoc, sideNot: spleenSideNot,
    summed: spleenSummed, total: spleenTotal })
drawPanel({ ...columns[2], ...rows[0], name: 'Liver', curve: liverCurve, classes: liverClasses,
    rankRange: [-248, 2674], valueRange: [-9.34, 11.81], rankTicks: rank2500, valueTicks: value10,
    topRank: liverTopRank, topMito: liverTopMito, topAssoc: liverTopAssoc, topNot: liverTopNot,
    sideLevel: liverSideLevel, sideMito: liverSideMito, sideAssoc: liverSideAssoc, sideNot: liverSideNot,
    summed: liverSummed, total: liverTotal })
drawPanel({ ...columns[0], ...rows[1], name: 'Kidney', curve: kidneyCurve, classes: kidneyClasses,
    rankRange: [-250, 2702], valueRange: [-8.75, 9.68], rankTicks: rank2500, valueTicks: value75,
    topRank: kidneyTopRank, topMito: kidneyTopMito, topAssoc: kidneyTopAssoc, topNot: kidneyTopNot,
    sideLevel: kidneySideLevel, sideMito: kidneySideMito, sideAssoc: kidneySideAssoc, sideNot: kidneySideNot,
    summed: kidneySummed, total: kidneyTotal })
drawPanel({ ...columns[1], ...rows[1], name: 'SKM', curve: skmCurve, classes: skmClasses,
    rankRange: [-174, 1833], valueRange: [-8.87, 10.79], rankTicks: skmRankTicks, valueTicks: value10,
    topRank: skmTopRank, topMito: skmTopMito, topAssoc: skmTopAssoc, topNot: skmTopNot,
    sideLevel: skmSideLevel, sideMito: skmSideMito, sideAssoc: skmSideAssoc, sideNot: skmSideNot,
    summed: skmSummed, total: skmTotal })
drawPanel({ ...columns[0], ...rows[2], name: 'Heart', curve: heartCurve, classes: heartClasses,
    rankRange: [-152, 1642], valueRange: [-8.13, 11.0], rankTicks: heartRankTicks, valueTicks: value10,
    topRank: heartTopRank, topMito: heartTopMito, topAssoc: heartTopAssoc, topNot: heartTopNot,
    sideLevel: heartSideLevel, sideMito: heartSideMito, sideAssoc: heartSideAssoc, sideNot: heartSideNot,
    summed: heartSummed, total: heartTotal })
drawPanel({ ...columns[1], ...rows[2], name: 'BAT', curve: batCurve, classes: batClasses,
    rankRange: [-162, 1714], valueRange: [-7.69, 10.88], rankTicks: batRankTicks, valueTicks: value10,
    topRank: batTopRank, topMito: batTopMito, topAssoc: batTopAssoc, topNot: batTopNot,
    sideLevel: batSideLevel, sideMito: batSideMito, sideAssoc: batSideAssoc, sideNot: batSideNot,
    summed: batSummed, total: batTotal })

drawHeatmap()
drawPca()

addText('A', 13, 14, 'bold 17px ' + SANS)
addText('B', 518, 283, 'bold 17px ' + SANS)
addText('C', 518, 570, 'bold 17px ' + SANS)
</script>
</body>
</html>
